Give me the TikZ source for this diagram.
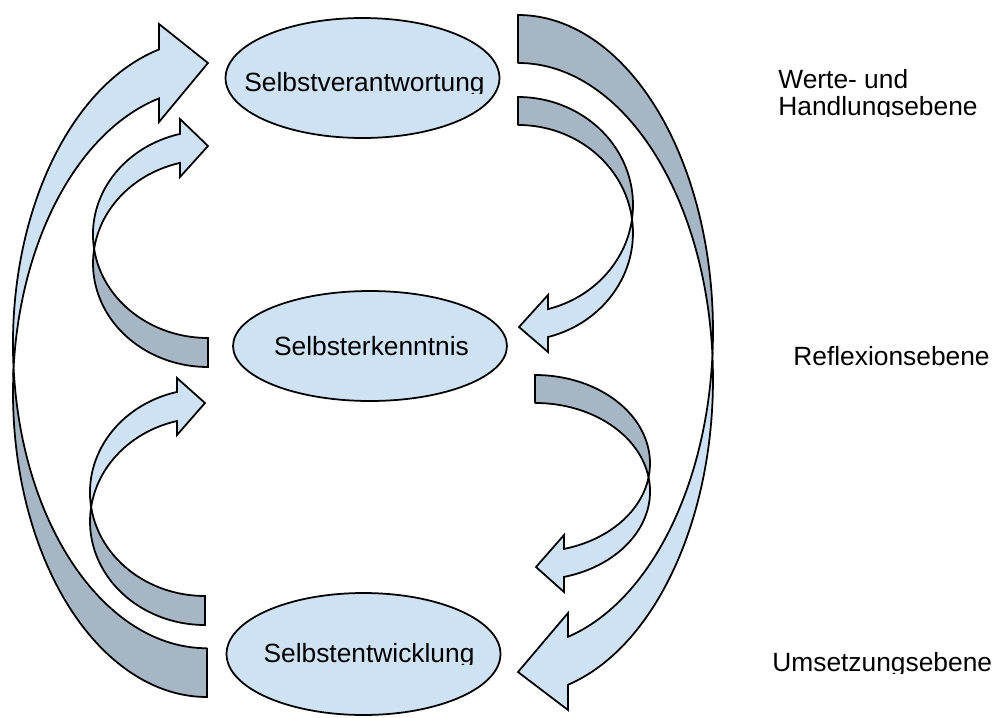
\documentclass[tikz,border=0pt]{standalone}
\usepackage{fontspec}
\setmainfont{Liberation Sans}
\usetikzlibrary{shapes.geometric}

\definecolor{frontblue}{RGB}{207,226,243}
\definecolor{backgray}{RGB}{167,182,196}

\tikzset{
  front/.style={draw=black, fill=frontblue, line width=1pt},
  back/.style={draw=black, fill=backgray, line width=1pt},
  stage/.style={ellipse, draw=black, fill=frontblue, line width=1pt, minimum width=5.48cm, minimum height=2.3cm, inner sep=0pt},
  stagetext/.style={font=\fontsize{15}{15}\selectfont, anchor=base, inner sep=0pt},
  leveltext/.style={font=\fontsize{15}{15}\selectfont, anchor=base west, inner sep=0pt}
}

\begin{document}
\begin{tikzpicture}[x=0.02cm, y=-0.02cm]

\useasboundingbox (0,0) rectangle (994,717);

% Ellipses
\node[stage, minimum height=2.4cm] (verant) at (362.5,78) {};
\node[stage, minimum height=2.2cm] (erkennt) at (370,346) {};
\node[stage, minimum height=2.44cm] (entw) at (363.5,654) {};

\begin{scope}
  \clip (230,20) rectangle (500,93);
  \node[stagetext] (verantlbl) at (364.5,91.7) {Selbstverantwortung};
\end{scope}
\node[stagetext] (erkenntlbl) at (371.5,355) {Selbsterkenntnis};
\begin{scope}
  \clip (230,600) rectangle (500,664);
  \node[stagetext] (entwlbl) at (369,662.7) {Selbstentwicklung};
\end{scope}

% big arrow left, up
\draw[back] (207,648) -- (207,697) arc[start angle=90, end angle=184.6, x radius=194, y radius=304]
  arc[start angle=175.4, end angle=90, x radius=194, y radius=304] -- cycle;
\draw[front] (13.6,368.4) arc[start angle=175.4, end angle=255.7, x radius=194, y radius=304]
  -- (159,24) -- (208,63) -- (159,122) -- (159,98.4)
  arc[start angle=255.7, end angle=184.6, x radius=194, y radius=304] -- cycle;

% small arrow left, upper
\draw[back] (208,338) -- (208,367) arc[start angle=90, end angle=188.05, x radius=115, y radius=103.6]
  arc[start angle=171.95, end angle=90, x radius=115, y radius=103.6] -- cycle;
\draw[front] (94.1,248.9) arc[start angle=171.95, end angle=255.9, x radius=115, y radius=103.6]
  -- (180,119) -- (208,146) -- (180,177) -- (180,162.9)
  arc[start angle=255.9, end angle=188.05, x radius=115, y radius=103.6] -- cycle;

% small arrow left, lower
\draw[back] (205,596) -- (205,625) arc[start angle=90, end angle=188.05, x radius=115, y radius=103.6]
  arc[start angle=171.95, end angle=90, x radius=115, y radius=103.6] -- cycle;
\draw[front] (91.1,506.9) arc[start angle=171.95, end angle=255.9, x radius=115, y radius=103.6]
  -- (177,378) -- (205,403) -- (177,435) -- (177,421)
  arc[start angle=255.9, end angle=188.05, x radius=115, y radius=103.6] -- cycle;

% big arrow right, down
\draw[back] (518,63) -- (518,15) arc[start angle=-90, end angle=4.35, x radius=195, y radius=316.2]
  arc[start angle=-4.35, end angle=-90, x radius=195, y radius=316.2] -- cycle;
\draw[front] (712.4,355.2) arc[start angle=-4.35, end angle=75.14, x radius=195, y radius=316.2]
  -- (568,710) -- (518,672) -- (568,613) -- (568,636.8)
  arc[start angle=75.14, end angle=4.35, x radius=195, y radius=316.2] -- cycle;

% small arrow right, upper
\draw[back] (518,125) -- (518,97) arc[start angle=-90, end angle=7.45, x radius=115, y radius=107.9]
  arc[start angle=-7.45, end angle=-90, x radius=115, y radius=107.9] -- cycle;
\draw[front] (632,218.9) arc[start angle=-7.45, end angle=74.88, x radius=115, y radius=107.9]
  -- (548,352) -- (519,327) -- (548,295) -- (548,309.1)
  arc[start angle=74.88, end angle=7.45, x radius=115, y radius=107.9] -- cycle;

% small arrow right, lower
\draw[back] (535,403) -- (535,375) arc[start angle=-90, end angle=9.1, x radius=115, y radius=88.4]
  arc[start angle=-9.1, end angle=-90, x radius=115, y radius=88.4] -- cycle;
\draw[front] (648.6,477.4) arc[start angle=-9.1, end angle=75.4, x radius=115, y radius=88.4]
  -- (564,592) -- (536,567) -- (564,535) -- (564,548.9)
  arc[start angle=75.4, end angle=9.1, x radius=115, y radius=88.4] -- cycle;

% levels
\node[leveltext] (werte) at (778,88.3) {Werte- und};
\begin{scope}
  \clip (770,95) rectangle (994,116);
  \node[leveltext] (handl) at (778,115) {Handlungsebene};
\end{scope}
\node[leveltext] (reflex) at (793,365) {Reflexionsebene};
\begin{scope}
  \clip (765,640) rectangle (994,673);
  \node[leveltext] (umsetz) at (772,671.7) {Umsetzungsebene};
\end{scope}

\end{tikzpicture}
\end{document}
